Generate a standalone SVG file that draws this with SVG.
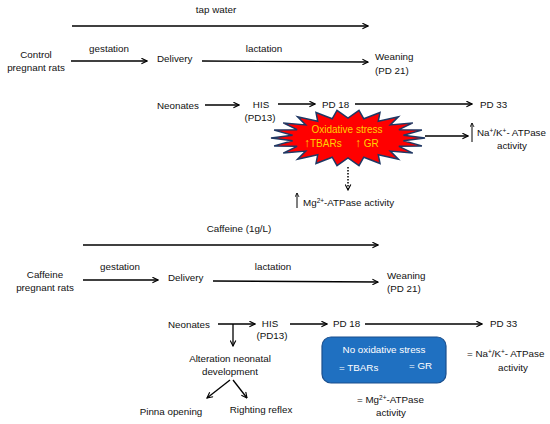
<svg xmlns="http://www.w3.org/2000/svg" width="550" height="424" viewBox="0 0 550 424">
<style>
text{font-family:"Liberation Sans",Arial,sans-serif;font-size:9.8px;fill:#111}
.m{text-anchor:middle}
.y{fill:#FFD200;font-size:10px}
.ya{font-size:12px}
.w{fill:#fff}
.sup{font-size:6.5px}
.ln{stroke:#000;stroke-width:1.3;fill:none;marker-end:url(#ah)}
.up{stroke:#000;stroke-width:1;fill:none;marker-end:url(#ahs)}
</style>
<defs>
<marker id="ah" viewBox="0 0 10 10" refX="9" refY="5" markerWidth="7" markerHeight="7" orient="auto" markerUnits="userSpaceOnUse">
<path d="M1,1 L9,5 L1,9" stroke="#000" stroke-width="1.6" fill="none"/>
</marker>
<marker id="ahs" viewBox="0 0 10 10" refX="9" refY="5" markerWidth="5" markerHeight="5" orient="auto" markerUnits="userSpaceOnUse">
<path d="M1,1 L9,5 L1,9" stroke="#000" stroke-width="1.6" fill="none"/>
</marker>
</defs>

<g id="connectors">
<path class="ln" d="M72,26 L368,26"/>
<path class="ln" d="M71,61 L147,61"/>
<path class="ln" d="M202,61 L368,62"/>
<path class="ln" d="M205,105 L239,105"/>
<path class="ln" d="M278,104 L315,104"/>
<path class="ln" d="M355,104 L472,104"/>
<path class="ln" d="M425,136 L468,136"/>
<path class="ln" d="M348,167 L348,190" stroke-dasharray="1.5,1.5" style="stroke-width:1.5"/>
<path class="up" d="M472,142 L472,123"/>
<path class="up" d="M297,208 L297,193"/>
<path class="ln" d="M83,245 L378,245"/>
<path class="ln" d="M83,280 L158,280"/>
<path class="ln" d="M213,281 L378,282"/>
<path class="ln" d="M218,324 L255,324"/>
<path class="ln" d="M233,324 L233,346"/>
<path class="ln" d="M290,324 L327,324"/>
<path class="ln" d="M365,324 L482,324"/>
<path class="ln" d="M230,380 L207,398"/>
<path class="ln" d="M233,380 L247,398"/>
</g>

<g id="control">
<text class="m" x="216" y="13">tap water</text>
<g id="control-rats"><text class="m" x="36" y="58">Control</text><text class="m" x="36" y="71">pregnant rats</text></g>
<text class="m" x="109" y="52">gestation</text>
<g id="delivery1"><text x="157" y="62">Delivery</text></g>
<text class="m" x="264" y="52">lactation</text>
<g id="weaning1"><text x="375" y="60">Weaning</text><text x="375" y="74">(PD 21)</text></g>
<g id="neonates1"><text x="157" y="109">Neonates</text></g>
<g id="his1"><text class="m" x="261" y="108">HIS</text><text class="m" x="260" y="121">(PD13)</text></g>
<g id="pd18a"><text x="322" y="108">PD 18</text></g>
<g id="pd33a"><text x="480" y="108">PD 33</text></g>
<g id="stress">
<polygon fill="#FF0000" stroke="#1F3864" stroke-width="1.5" stroke-linejoin="miter" points="425,138 403.4,140.8 421.9,145.9 398.9,146.3 412.8,153.1 390.3,151.1 398.4,159.2 378.3,154.8 380,163.5 363.8,157.2 359,165.7 348,158 337,165.7 332.2,157.2 316,163.5 317.7,154.8 297.6,159.2 305.7,151.1 283.2,153.1 297.1,146.3 274.1,145.9 292.6,140.8 271,138 292.6,135.2 274.1,130.1 297.1,129.7 283.2,122.9 305.7,124.9 297.6,116.8 317.7,121.2 316,112.5 332.2,118.8 337,110.3 348,118 359,110.3 363.8,118.8 380,112.5 378.3,121.2 398.4,116.8 390.3,124.9 412.8,122.9 398.9,129.7 421.9,130.1 403.4,135.2"/>
<text class="m y" x="347" y="133">Oxidative stress</text>
<text class="y" x="304" y="147"><tspan class="ya">↑</tspan>TBARs</text>
<text class="y" x="355" y="147"><tspan class="ya">↑</tspan> GR</text>
</g>
<g id="nak1"><text x="477" y="136">Na<tspan class="sup" dy="-3.5">+</tspan><tspan dy="3.5">/K</tspan><tspan class="sup" dy="-3.5">+</tspan><tspan dy="3.5">- ATPase</tspan></text><text class="m" x="512" y="149">activity</text></g>
<g id="mg1"><text x="303" y="206">Mg<tspan class="sup" dy="-3.5">2+</tspan><tspan dy="3.5">-ATPase activity</tspan></text></g>
</g>

<g id="caffeine">
<text class="m" x="239" y="232">Caffeine (1g/L)</text>
<g id="caffeine-rats"><text class="m" x="45" y="278">Caffeine</text><text class="m" x="45" y="291">pregnant rats</text></g>
<text class="m" x="120" y="270">gestation</text>
<g id="delivery2"><text x="168" y="281">Delivery</text></g>
<text class="m" x="273" y="270">lactation</text>
<g id="weaning2"><text x="387" y="279">Weaning</text><text x="387" y="292">(PD 21)</text></g>
<g id="neonates2"><text x="168" y="328">Neonates</text></g>
<g id="his2"><text class="m" x="270" y="327">HIS</text><text class="m" x="272" y="339">(PD13)</text></g>
<g id="pd18b"><text x="333" y="327">PD 18</text></g>
<g id="pd33b"><text x="490" y="327">PD 33</text></g>
<g id="alteration"><text class="m" x="230" y="362">Alteration neonatal</text><text class="m" x="230" y="375">development</text></g>
<g id="pinna"><text class="m" x="171" y="415">Pinna opening</text></g>
<g id="righting"><text class="m" x="261" y="413">Righting reflex</text></g>
<g id="nostress">
<rect x="322" y="337" width="124" height="46" rx="9" fill="#1F70C1" stroke="#1A4F8E" stroke-width="1.2"/>
<text class="m w" x="384" y="353">No oxidative stress</text>
<text class="w" x="339" y="371">= TBARs</text>
<text class="w" x="409" y="369">= GR</text>
</g>
<g id="nak2"><text x="467" y="357">= Na<tspan class="sup" dy="-3.5">+</tspan><tspan dy="3.5">/K</tspan><tspan class="sup" dy="-3.5">+</tspan><tspan dy="3.5">- ATPase</tspan></text><text class="m" x="513" y="371">activity</text></g>
<g id="mg2"><text x="357" y="403">= Mg<tspan class="sup" dy="-3.5">2+</tspan><tspan dy="3.5">-ATPase</tspan></text><text class="m" x="391" y="416">activity</text></g>
</g>
</svg>
